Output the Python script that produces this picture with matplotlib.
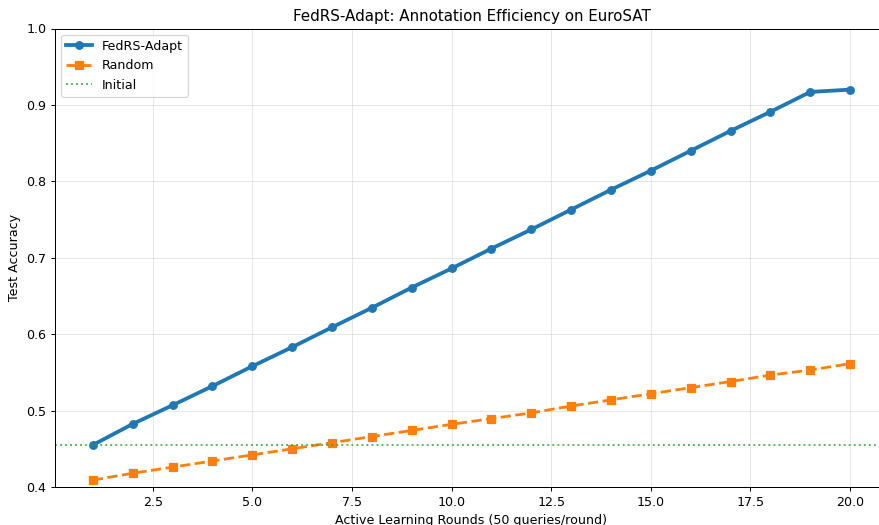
import numpy as np
import matplotlib
matplotlib.use("Agg")
import matplotlib.pyplot as plt

rounds = list(range(1, 21))
fedrs_adapt = [0.455, 0.4825, 0.507, 0.532, 0.558, 0.583, 0.609, 0.6345, 0.661, 0.686,
               0.712, 0.737, 0.763, 0.789, 0.814, 0.840, 0.866, 0.891, 0.917, 0.920]
random_sel = [0.409, 0.418, 0.426, 0.434, 0.442, 0.450, 0.458, 0.466, 0.474, 0.482,
              0.4895, 0.497, 0.506, 0.514, 0.522, 0.530, 0.538, 0.5465, 0.553, 0.5615]
initial_acc = 0.455

# reference looks like a 10x6 figure shrunk down, so render at a lower dpi
dpi = 91
fig = plt.figure(figsize=(879 / dpi, 525 / dpi), dpi=dpi)
ax = fig.add_axes([55 / 879, 38 / 525, 833 / 879, 458.5 / 525])

ax.plot(rounds, fedrs_adapt, 'o-', color='#1f77b4', linewidth=3, markersize=6, label='FedRS-Adapt')
ax.plot(rounds, random_sel, 's--', color='#ff7f0e', linewidth=2.2, markersize=6, label='Random')
ax.axhline(initial_acc, color='#2ca02c', linestyle=':', alpha=0.8, label='Initial')

ax.set_ylim(0.4, 1.0)
ax.set_xlabel('Active Learning Rounds (50 queries/round)')
ax.set_ylabel('Test Accuracy')
ax.set_title('FedRS-Adapt: Annotation Efficiency on EuroSAT')
ax.legend(loc='upper left')
ax.grid(True, alpha=0.3)

fig.savefig('out.png', dpi=dpi)
